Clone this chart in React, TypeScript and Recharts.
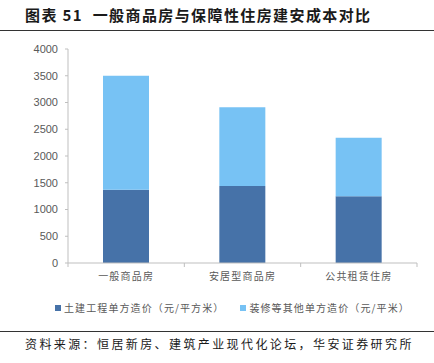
import React from "react"
import { BarChart, Bar, XAxis, YAxis } from "recharts"

const categories = ["一般商品房", "安居型商品房", "公共租赁住房"]
const civilCost = [1370, 1440, 1250]
const fitoutCost = [2130, 1470, 1090]
const yTicks = [0, 500, 1000, 1500, 2000, 2500, 3000, 3500, 4000]

const seriesNames = {
  civil: "土建工程单方造价（元/平方米）",
  fitout: "装修等其他单方造价（元/平米）",
}

const DARK = "#4672A8"
const LIGHT = "#77C2F4"
const AXIS = "#BFBFBF"
const CJK = '"Noto Sans CJK SC", sans-serif'

const data = categories.map((name, i) => ({
  name,
  civil: civilCost[i],
  fitout: fitoutCost[i],
}))

// category label + boundary tick marks (ticks sit between categories, not under them)
const CategoryTick = (props: any) => {
  const { x, y, payload, index } = props
  const half = payload && payload.offset ? payload.offset : 58
  const top = y - 8
  return (
    <g>
      <line x1={x - half} y1={top} x2={x - half} y2={top + 4} stroke={AXIS} />
      {index === categories.length - 1 && (
        <line x1={x + half} y1={top} x2={x + half} y2={top + 4} stroke={AXIS} />
      )}
      <text
        x={x}
        y={y + 9}
        textAnchor="middle"
        fill="#595959"
        fontSize={10}
        letterSpacing={1.2}
        fontFamily={CJK}
      >
        {payload.value}
      </text>
    </g>
  )
}

const LegendBox = () => (
  <div
    style={{
      position: "absolute",
      left: 0,
      top: 300,
      width: 434,
      display: "flex",
      alignItems: "center",
      paddingLeft: 55,
      fontFamily: CJK,
      fontSize: 10,
      letterSpacing: 1.1,
      color: "#595959",
    }}
  >
    <span style={{ width: 6, height: 6, background: DARK, marginRight: 3 }} />
    <span>{seriesNames.civil}</span>
    <span style={{ width: 6, height: 6, background: LIGHT, marginLeft: 16, marginRight: 3 }} />
    <span>{seriesNames.fitout}</span>
  </div>
)

export default function App() {
  return (
    <div
      style={{
        position: "absolute",
        left: 0,
        top: 0,
        width: 434,
        height: 363,
        background: "#fff",
        overflow: "hidden",
      }}
    >
      {/* title */}
      <div
        style={{
          position: "absolute",
          left: 25,
          top: 4,
          fontFamily: CJK,
          fontWeight: 700,
          fontSize: 15,
          letterSpacing: 1.4,
          color: "#1a1a1a",
          whiteSpace: "nowrap",
        }}
      >
        图表 51&nbsp;&nbsp;一般商品房与保障性住房建安成本对比
      </div>
      <div style={{ position: "absolute", left: 0, top: 30, width: 434, height: 1, background: "#333" }} />

      <BarChart
        width={434}
        height={363}
        data={data}
        margin={{ top: 49, right: 17, bottom: 70, left: 0 }}
        barSize={46}
      >
        <YAxis
          width={68}
          domain={[0, 4000]}
          ticks={yTicks}
          interval={0}
          tickSize={3}
          tickMargin={7}
          stroke={AXIS}
          tick={{ fill: "#595959", fontSize: 11, fontFamily: '"Liberation Sans", Arial, sans-serif' }}
        />
        <XAxis
          dataKey="name"
          height={30}
          stroke={AXIS}
          tickLine={false}
          interval={0}
          tick={<CategoryTick />}
        />
        <Bar dataKey="civil" name={seriesNames.civil} stackId="a" fill={DARK} isAnimationActive={false} />
        <Bar dataKey="fitout" name={seriesNames.fitout} stackId="a" fill={LIGHT} isAnimationActive={false} />
      </BarChart>

      <LegendBox />

      {/* source */}
      <div style={{ position: "absolute", left: 0, top: 331, width: 434, height: 1, background: "#333" }} />
      <div
        style={{
          position: "absolute",
          left: 25,
          top: 335,
          fontFamily: CJK,
          fontSize: 12,
          letterSpacing: 2.4,
          color: "#1a1a1a",
          whiteSpace: "nowrap",
        }}
      >
        资料来源：恒居新房、建筑产业现代化论坛，华安证券研究所
      </div>
    </div>
  )
}
